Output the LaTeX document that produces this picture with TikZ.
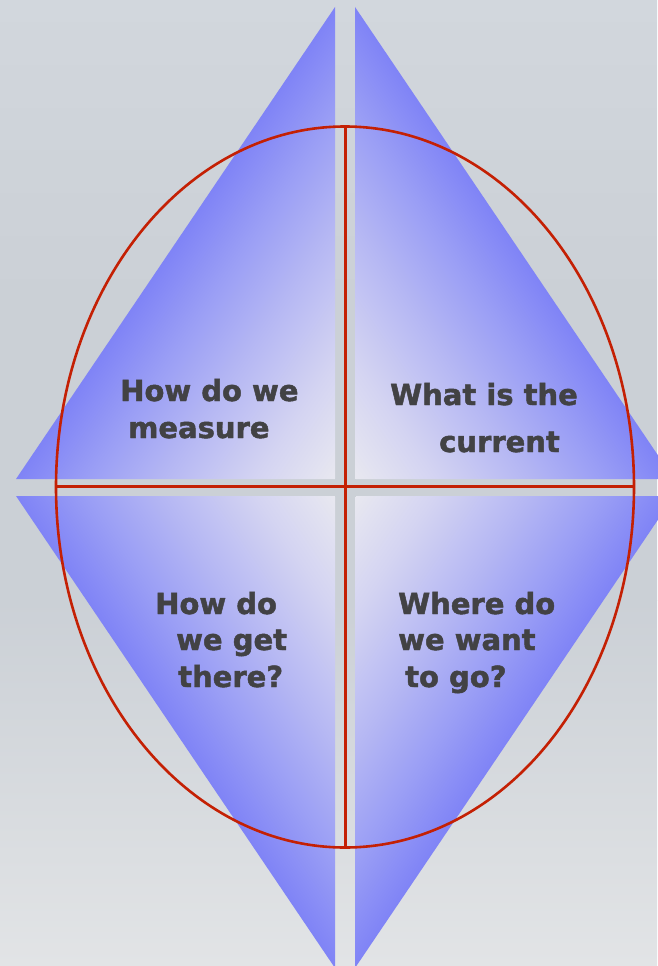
\documentclass[tikz,border=0pt]{standalone}
\usepackage{xcolor}
\usepackage{fontspec}
\usepackage{tikz}
\newfontfamily\labelfont{DejaVu Sans}[FakeBold=1.6]
\definecolor{bgtop}{RGB}{210,215,221}
\definecolor{bgmid}{RGB}{203,208,214}
\definecolor{bgbottom}{RGB}{226,228,230}
\definecolor{paleblue}{RGB}{232,232,240}
\definecolor{lightblue}{RGB}{212,212,242}
\definecolor{midblue}{RGB}{182,184,243}
\definecolor{softblue}{RGB}{154,158,245}
\definecolor{deepblue}{RGB}{128,132,246}
\definecolor{darkred}{RGB}{196,32,4}
\definecolor{textgray}{RGB}{66,66,68}
\pgfdeclarehorizontalshading{fade}{900bp}{%
  color(0bp)=(paleblue); color(65bp)=(lightblue); color(140bp)=(midblue);
  color(205bp)=(softblue); color(262bp)=(deepblue); color(300bp)=(deepblue)}

\begin{document}
\begin{tikzpicture}[
    x=1pt, y=-1pt,
    axis/.style={darkred, line width=2.6pt},
    label/.style={anchor=base west, inner sep=0pt, text=textgray,
                  font=\labelfont\bfseries\fontsize{29}{35}\selectfont}
  ]
    % background
    \shade[top color=bgtop, bottom color=bgmid, middle color=bgmid] (0,0) rectangle (657,600);
    \shade[top color=bgmid, bottom color=bgbottom] (0,600) rectangle (657,966);
    \useasboundingbox (0,0) rectangle (657,966);
    \coordinate (O) at (345,487);
    % four triangles, light in the corner, deep at the long side
    \foreach \cx/\cy/\sx/\sy/\ang [count=\i] in
        {335/479/-1/-1/145.95, 355/479/1/-1/34.05,
         335/496/-1/1/214.05, 355/496/1/1/325.95} {
      \begin{scope}
        \clip (\cx,\cy) -- ++(0,\sy*472) -- (\cx+\sx*319,\cy) -- cycle;
        \node[inner sep=0pt, anchor=west, rotate=\ang] (tri\i) at (\cx,\cy)
          {\pgfuseshading{fade}};
      \end{scope}
    }
    % ellipse and cross
    \draw[axis] (O) ellipse (289 and 360.5);
    \coordinate (N) at (345.5,126.5);
    \coordinate (S) at (345.5,847.5);
    \coordinate (W) at (56,486.5);
    \coordinate (E) at (634,486.5);
    \draw[axis] (N) -- (S);
    \draw[axis] (W) -- (E);
    % labels
    \node[label] (tl1) at (120,401) {How do we};
    \node[label] (tl2) at (128,438) {measure};
    \node[label] (tr1) at (390,405) {What is the};
    \node[label] (tr2) at (439,452) {current};
    \node[label] (bl1) at (155,614) {How do};
    \node[label] (bl2) at (176,650) {we get};
    \node[label] (bl3) at (178,687) {there?};
    \node[label] (br1) at (398,614) {Where do};
    \node[label] (br2) at (398,650) {we want};
    \node[label] (br3) at (405,687) {to go?};
  \end{tikzpicture}
\end{document}
